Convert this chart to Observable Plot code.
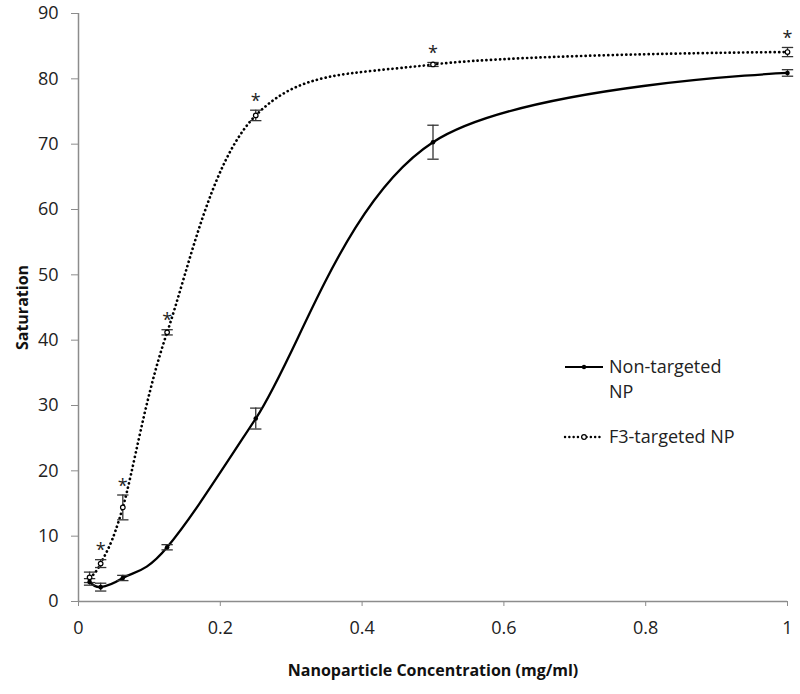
<!DOCTYPE html>
<html>
<head>
<meta charset="utf-8">
<script src="https://cdn.jsdelivr.net/npm/d3@7"></script>
<script src="https://cdn.jsdelivr.net/npm/@observablehq/plot@0.6"></script>
<style>
  html, body { margin: 0; padding: 0; background: #fff; }
  #wrap { position: relative; width: 800px; height: 694px; font-family: "Open Sans", sans-serif; }
  #legend { position: absolute; left: 560px; top: 350px; }
</style>
</head>
<body>
<div id="wrap"><div id="chart"></div><div id="legend"></div></div>
<script>
// ---- data ----
const concentration = [0.015625, 0.03125, 0.0625, 0.125, 0.25, 0.5, 1];
const nonTargeted    = [3.0, 2.2, 3.6, 8.3, 28.0, 70.3, 80.9];
const nonTargetedErr = [0.5, 0.6, 0.4, 0.4, 1.6, 2.6, 0.5];
const f3Targeted     = [3.7, 5.8, 14.4, 41.2, 74.4, 82.2, 84.1];
const f3TargetedErr  = [0.8, 0.6, 1.9, 0.4, 0.8, 0.3, 0.7];
const significant    = [false, true, true, true, true, true, true];
const seriesNames    = ["Non-targeted NP", "F3-targeted NP"];
const xTicks = [0, 0.2, 0.4, 0.6, 0.8, 1];
const yTicks = [0, 10, 20, 30, 40, 50, 60, 70, 80, 90];
const xTitle = "Nanoparticle Concentration (mg/ml)";
const yTitle = "Saturation";

const nonRows = concentration.map((c, i) => ({x: c, y: nonTargeted[i], e: nonTargetedErr[i]}));
const f3Rows = concentration.map((c, i) => ({x: c, y: f3Targeted[i], e: f3TargetedErr[i], sig: significant[i]}));

const capSymbol = { draw(ctx, size) { const r = Math.sqrt(size); ctx.moveTo(-r, 0); ctx.lineTo(r, 0); } };

function errorMarks(rows) {
  return [
    Plot.ruleX(rows, {x: "x", y1: d => d.y - d.e, y2: d => d.y + d.e, stroke: "#333", strokeWidth: 1.3}),
    Plot.dot(rows, {x: "x", y: d => d.y - d.e, symbol: capSymbol, r: 3.2, stroke: "#333", strokeWidth: 1.3}),
    Plot.dot(rows, {x: "x", y: d => d.y + d.e, symbol: capSymbol, r: 3.2, stroke: "#333", strokeWidth: 1.3})
  ];
}

const chart = Plot.plot({
  width: 800,
  height: 694,
  marginLeft: 78,
  marginRight: 13,
  marginTop: 13,
  marginBottom: 93,
  style: {fontFamily: "'Open Sans', sans-serif", background: "#fff"},
  x: {domain: [0, 1]},
  y: {domain: [0, 90]},
  marks: [
    Plot.axisX({ticks: xTicks, tickFormat: d => String(d), tickSize: 5, tickPadding: 15, stroke: "#8c8c8c", fill: "#222", fontSize: 18, label: null}),
    Plot.axisY({ticks: yTicks, tickSize: 7, tickPadding: 13, stroke: "#8c8c8c", fill: "#222", fontSize: 18, label: null}),
    Plot.ruleX([0], {stroke: "#8c8c8c", strokeWidth: 1.5}),
    Plot.ruleY([0], {stroke: "#8c8c8c", strokeWidth: 1.5}),
    Plot.text([xTitle], {frameAnchor: "bottom", textAnchor: "middle", dy: 74, fontWeight: "bold", fontSize: 16, fill: "#111"}),
    Plot.text([yTitle], {frameAnchor: "left", textAnchor: "middle", lineAnchor: "middle", dx: -56, rotate: -90, fontWeight: "bold", fontSize: 16, fill: "#111"}),
    Plot.line(nonRows, {x: "x", y: "y", curve: "cardinal", stroke: "#000", strokeWidth: 2.3}),
    Plot.line(f3Rows, {x: "x", y: "y", curve: "cardinal", stroke: "#000", strokeWidth: 2.7, strokeDasharray: "0.1 4.4", strokeLinecap: "round"}),
    ...errorMarks(nonRows),
    ...errorMarks(f3Rows),
    Plot.dot(nonRows, {x: "x", y: "y", r: 2.3, fill: "#000"}),
    Plot.dot(f3Rows, {x: "x", y: "y", r: 2.3, fill: "#fff", stroke: "#000", strokeWidth: 1.2}),
    Plot.text(f3Rows.filter(d => d.sig), {x: "x", y: d => d.y + d.e, text: () => "*", dy: -9, fontSize: 18, fill: "#222"})
  ]
});
document.getElementById("chart").appendChild(chart);

// ---- legend (overlay) ----
const lg = d3.select("#legend").append("svg").attr("width", 230).attr("height", 110)
  .style("font-family", "'Open Sans', sans-serif");
const rowsY = [17, 87];
const nameLines = [["Non-targeted", "NP"], ["F3-targeted NP"]];
seriesNames.forEach((name, i) => {
  const g = lg.append("g").attr("transform", `translate(0,${rowsY[i]})`);
  const line = g.append("line").attr("x1", 5).attr("x2", 43).attr("y1", 0).attr("y2", 0).attr("stroke", "#000");
  if (i === 0) {
    line.attr("stroke-width", 2);
    g.append("circle").attr("cx", 24).attr("cy", 0).attr("r", 2.2).attr("fill", "#000");
  } else {
    line.attr("stroke-width", 2.4).attr("stroke-dasharray", "0.1 4.2").attr("stroke-linecap", "round");
    g.append("circle").attr("cx", 24).attr("cy", 0).attr("r", 2.3).attr("fill", "#fff").attr("stroke", "#000").attr("stroke-width", 1.2);
  }
  nameLines[i].forEach((t, j) => {
    g.append("text").attr("x", 49).attr("y", j * 25).attr("dy", "0.35em").attr("font-size", 18).attr("fill", "#222").text(t);
  });
});
</script>
</body>
</html>
